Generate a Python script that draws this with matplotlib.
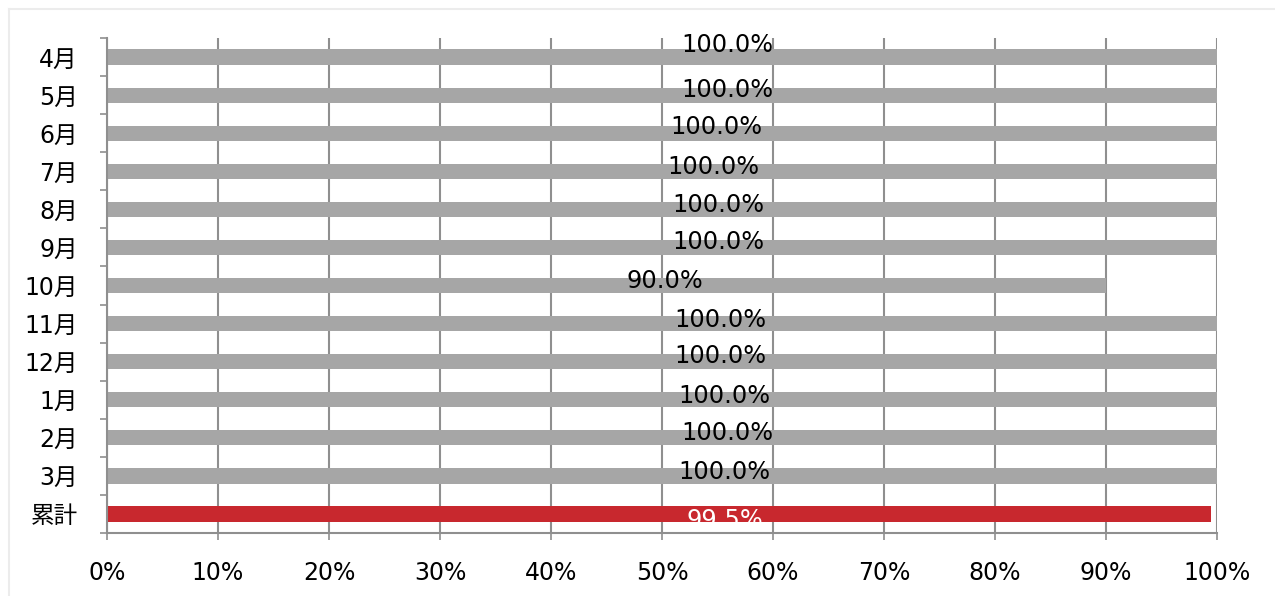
import matplotlib
matplotlib.use('Agg')
import matplotlib.pyplot as plt
from matplotlib.lines import Line2D
import numpy as np

plt.rcParams['font.family'] = ['DejaVu Sans', 'Noto Sans CJK JP']

# data
months = ['4月', '5月', '6月', '7月', '8月', '9月', '10月', '11月', '12月', '1月', '2月', '3月', '累計']
rates = [1.0, 1.0, 1.0, 1.0, 1.0, 1.0, 0.90, 1.0, 1.0, 1.0, 1.0, 1.0, 0.995]
x_ticks = [0.0, 0.1, 0.2, 0.3, 0.4, 0.5, 0.6, 0.7, 0.8, 0.9, 1.0]

# where excel put the data labels (x as axis fraction, y offset in px)
lab_x = [0.5586, 0.5586, 0.5486, 0.546, 0.5505, 0.5505, 0.5027, 0.553, 0.553, 0.556, 0.5586, 0.556, 0.5568]
lab_dy = [12, 5, 6, 4, 4, 5, 4, 4, 6, 4, 5, 4, -6]

gray = '#a6a6a6'
red = '#c8282e'
gridc = '#8f8f8f'

fig = plt.figure(figsize=(12.75, 5.96), dpi=100)
ax = fig.add_axes([107/1275, 1 - 533/596, 1110/1275, 495/596])

y = np.arange(len(months))
colors = [gray] * (len(months) - 1) + [red]
ax.barh(y, rates, height=0.4, color=colors, zorder=2)

for i, v in enumerate(rates):
    tc = 'white' if i == len(months) - 1 else 'black'
    ax.annotate('%.1f%%' % (v * 100), (lab_x[i], y[i]), xytext=(0, lab_dy[i] * 0.72),
                textcoords='offset points', ha='center', va='center',
                fontsize=17.3, color=tc, zorder=3)

ax.set_xlim(0, 1)
ax.set_ylim(len(months) - 0.5, -0.5)
ax.set_xticks(x_ticks)
ax.set_xticklabels(['%d%%' % round(t * 100) for t in x_ticks])
ax.set_yticks(y)
ax.set_yticklabels(months)
ax.set_yticks(np.arange(len(months) + 1) - 0.5, minor=True)

ax.xaxis.grid(True, color=gridc, linewidth=1.5, zorder=1)
ax.set_axisbelow(True)

ax.tick_params(axis='x', which='major', length=5, width=1.2, color=gridc, pad=15, labelsize=17)
ax.tick_params(axis='y', which='major', length=0, pad=21, labelsize=17)
ax.tick_params(axis='y', which='minor', length=5, width=1.2, color=gridc)

for s in ['top', 'right']:
    ax.spines[s].set_visible(False)
ax.spines['left'].set_color(gridc)
ax.spines['bottom'].set_color(gridc)
ax.spines['left'].set_linewidth(1.5)
ax.spines['bottom'].set_linewidth(1.5)

# light frame of the chart area
bc = '#ececec'
fig.add_artist(Line2D([9/1275, 1], [1 - 9/596, 1 - 9/596], color=bc, lw=1.5, transform=fig.transFigure))
fig.add_artist(Line2D([9/1275, 9/1275], [0, 1 - 9/596], color=bc, lw=1.5, transform=fig.transFigure))

fig.savefig('out.png', dpi=100)
